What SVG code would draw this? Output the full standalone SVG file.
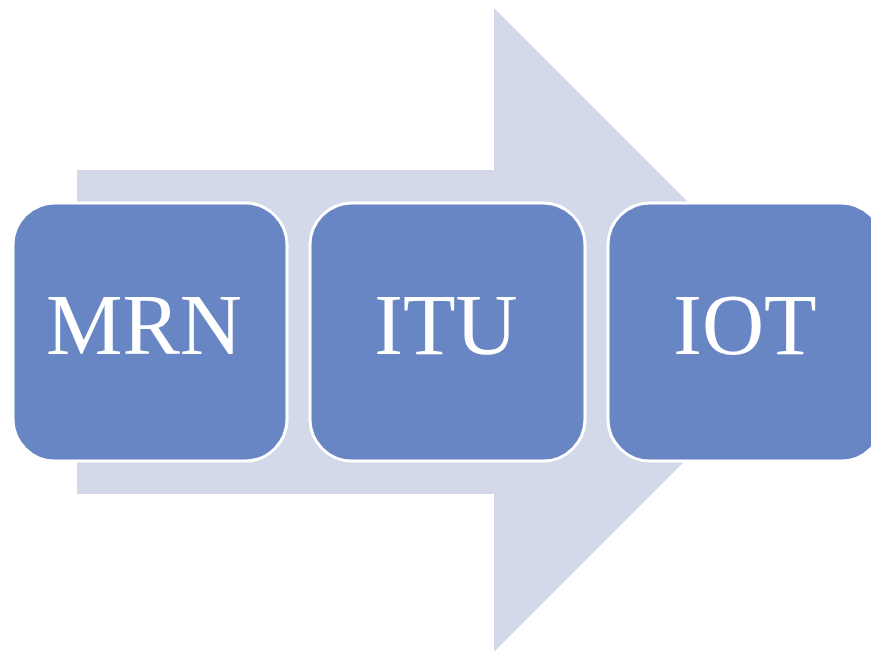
<svg xmlns="http://www.w3.org/2000/svg" width="871" height="653" viewBox="0 0 871 653">
  <style>
    .step rect { fill: #6886c4; stroke: #ffffff; stroke-width: 3; }
    .step text { fill: #ffffff; font-family: "Liberation Serif", "DejaVu Serif", serif; font-size: 86px; text-anchor: middle; }
  </style>
  <rect width="871" height="653" fill="#ffffff"/>
  <!-- background process arrow -->
  <g id="connectors">
    <polygon points="77,170 494,170 494,8 816,330 494,652 494,494 77,494" fill="#d3d9e8"/>
  </g>
  <g id="node-mrn" class="step">
    <rect x="13" y="203" width="274" height="258" rx="42" ry="42"/>
    <text x="144" y="354">MRN</text>
  </g>
  <g id="node-itu" class="step">
    <rect x="310" y="203" width="275" height="258" rx="42" ry="42"/>
    <text x="446" y="354">ITU</text>
  </g>
  <g id="node-iot" class="step">
    <rect x="608" y="203" width="275" height="258" rx="42" ry="42"/>
    <text x="745" y="354">IOT</text>
  </g>
</svg>
